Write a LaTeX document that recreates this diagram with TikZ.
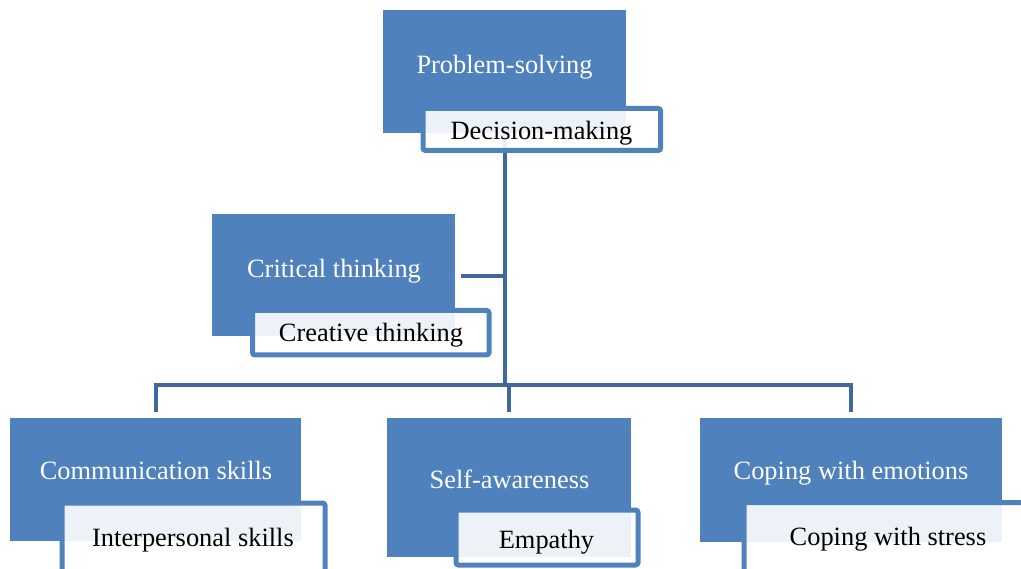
\documentclass[tikz,border=0pt]{standalone}
\usepackage{fontspec}
\setmainfont{Liberation Serif}
\definecolor{mainblue}{HTML}{4F81BD}
\definecolor{linkblue}{HTML}{41689A}
\tikzset{
  mainbox/.style={fill=mainblue, draw=none},
  subbox/.style={draw=mainblue, line width=5pt, rounded corners=2.5pt, fill=white, fill opacity=0.9},
  link/.style={draw=linkblue, line width=4.5pt},
  maintext/.style={text=white, anchor=base, inner sep=0pt, font=\fontsize{26.4}{30}\selectfont},
  subtext/.style={text=black, anchor=base, inner sep=0pt, font=\fontsize{26.4}{30}\selectfont},
}
\begin{document}
\begin{tikzpicture}[x=1pt,y=-1pt]
\useasboundingbox (0,0) rectangle (1021,569);
% connector coordinates
\coordinate (top) at (505,133);
\coordinate (mid) at (505,276);
\coordinate (stub) at (461,276);
\coordinate (hub) at (505,385);
\coordinate (hl) at (156,385);
\coordinate (hm) at (509,385);
\coordinate (hr) at (851,385);
\coordinate (dl) at (156,412);
\coordinate (dm) at (509,412);
\coordinate (dr) at (851,412);
\draw[link] (top) -- (hub);
\draw[link] (stub) -- (mid);
\draw[link] (dl) -- (hl) -- (hr) -- (dr);
\draw[link] (hm) -- (dm);
% main boxes
\path[mainbox] (383,10) rectangle (626,133) node[midway] (ps) {};
\path[mainbox] (212,214) rectangle (455,336) node[midway] (crit) {};
\path[mainbox] (10,418) rectangle (301,541) node[midway] (comm) {};
\path[mainbox] (387,418) rectangle (631,557) node[midway] (sa) {};
\path[mainbox] (700,418) rectangle (1002,542) node[midway] (ce) {};
% sub boxes
\path[subbox] (423,108.5) rectangle (660.5,150.5) node[midway] (dmk) {};
\path[subbox] (252.5,310.5) rectangle (489,355) node[midway] (crt) {};
\path[subbox] (62,503) rectangle (325,590) node[midway] (ips) {};
\path[subbox] (456,510) rectangle (638,565) node[midway] (emp) {};
\path[subbox] (744,502.5) rectangle (1040,590) node[midway] (cws) {};
% texts
\node[maintext] (pst) at (504.5,73.5) {Problem-solving};
\node[subtext] (dmt) at (541.5,139.5) {Decision-making};
\node[maintext] (critt) at (334,277.5) {Critical thinking};
\node[subtext] (crtt) at (371,341.5) {Creative thinking};
\node[maintext] (commt) at (156,479.5) {Communication skills};
\node[subtext] (ipst) at (193,546.5) {Interpersonal skills};
\node[maintext] (sat) at (509.5,488.5) {Self-awareness};
\node[subtext] (empt) at (546.5,548.5) {Empathy};
\node[maintext] (cet) at (851,479.5) {Coping with emotions};
\node[subtext] (cwst) at (888,545.5) {Coping with stress};
\end{tikzpicture}
\end{document}
